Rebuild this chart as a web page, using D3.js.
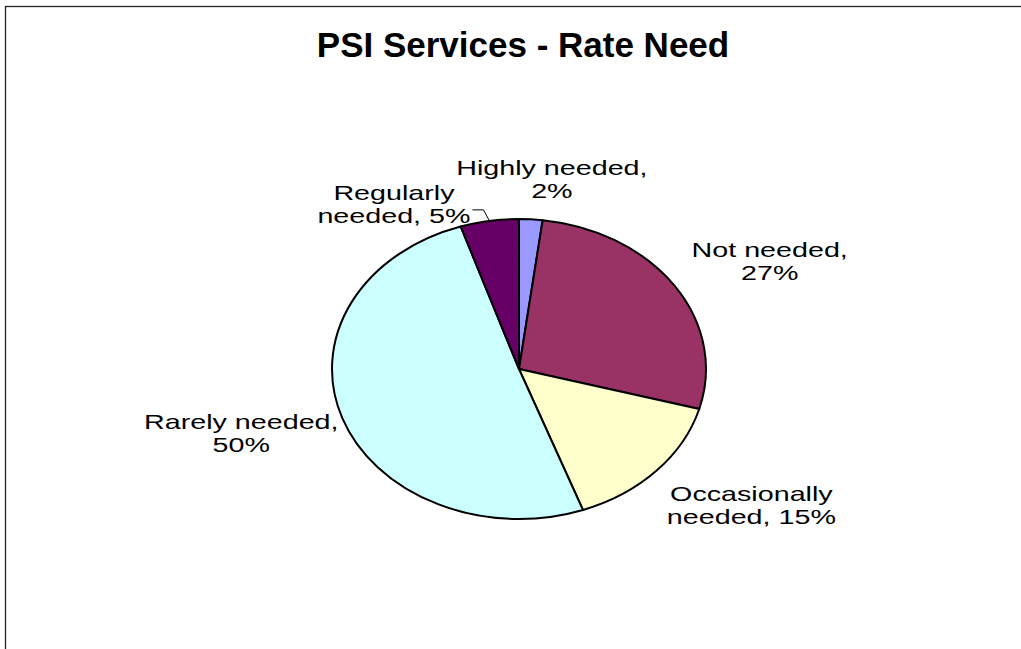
<!DOCTYPE html>
<html>
<head>
<meta charset="utf-8">
<script src="https://cdn.jsdelivr.net/npm/d3@7"></script>
<style>
  body { margin: 0; background: #fff; }
  svg { display: block; }
</style>
</head>
<body>
<svg id="chart" width="1021" height="649"></svg>
<script>
// Survey answers: how much the PSI services are needed
const categories = ["Highly needed", "Not needed", "Occasionally needed", "Rarely needed", "Regularly needed"];
const shares = [2, 27, 15, 50, 5];
const sliceColors = ["#9999FF", "#993366", "#FFFFCC", "#CCFFFF", "#660066"];
// number of words kept on the first line of each data label
const firstLineWords = [2, 2, 1, 2, 1];
const chartTitle = "PSI Services - Rate Need";

// ---- layout ----
const W = 1021, H = 649;
const cx = 519, cy = 369;      // pie centre
const rx = 187, ry = 150;      // elliptical pie radii
const R = 150;                 // base radius before horizontal stretch
const labelFont = 20.5, labelStretch = 1.4, lineGap = 23;
// label block centre, relative to where the slice's mid-angle meets the rim
const labelShift = [[21, -40], [95, -25], [95, 34], [-101, 15], [-95.5, -17]];

const svg = d3.select("#chart");

// chart frame
svg.append("rect")
  .attr("x", 5.5).attr("y", 6.5)
  .attr("width", W + 10).attr("height", H + 10)
  .attr("fill", "#fff")
  .attr("stroke", "#222").attr("stroke-width", 1.3);

// title
svg.append("text")
  .attr("x", 523).attr("y", 57)
  .attr("text-anchor", "middle")
  .attr("font-family", "'Liberation Sans', Arial, sans-serif")
  .attr("font-weight", "bold")
  .attr("font-size", 35)
  .attr("fill", "#000")
  .text(chartTitle);

const data = categories.map((c, i) => ({ name: c, value: shares[i], color: sliceColors[i], words: firstLineWords[i], shift: labelShift[i] }));

const pie = d3.pie().value(d => d.value).sort(null).startAngle(0).endAngle(2 * Math.PI);
const arcs = pie(data);
const arc = d3.arc().innerRadius(0).outerRadius(R);

const pieG = svg.append("g")
  .attr("transform", `translate(${cx},${cy}) scale(${rx / R},${ry / R})`);

pieG.selectAll("path")
  .data(arcs)
  .join("path")
  .attr("d", arc)
  .attr("fill", d => d.data.color)
  .attr("stroke", "#000")
  .attr("stroke-width", 2)
  .attr("stroke-linejoin", "round")
  .attr("vector-effect", "non-scaling-stroke");

// rim point at the middle of each slice
function rimPoint(d) {
  const a = (d.startAngle + d.endAngle) / 2;
  return [cx + rx * Math.sin(a), cy - ry * Math.cos(a)];
}

const labelG = svg.append("g")
  .attr("font-family", "'Liberation Sans', Arial, sans-serif")
  .attr("font-size", labelFont)
  .attr("fill", "#000");

arcs.forEach(d => {
  const [px, py] = rimPoint(d);
  const lx = px + d.data.shift[0];
  const ly = py + d.data.shift[1];
  const words = `${d.data.name}, ${d.data.value}%`.split(" ");
  const lines = [words.slice(0, d.data.words).join(" "), words.slice(d.data.words).join(" ")];
  const g = labelG.append("g")
    .attr("transform", `translate(${lx},${ly}) scale(${labelStretch},1)`);
  lines.forEach((t, i) => {
    g.append("text")
      .attr("x", 0)
      .attr("y", -4 + i * lineGap)
      .attr("text-anchor", "middle")
      .text(t);
  });
  // leader line for the small slice whose label sits off to the side
  if (d.data.name === "Regularly needed") {
    const pts = [[px - 17, py - 11], [px - 6, py - 11], [px, py]];
    svg.append("path")
      .attr("d", d3.line()(pts))
      .attr("fill", "none")
      .attr("stroke", "#000")
      .attr("stroke-width", 1);
  }
});
</script>
</body>
</html>
